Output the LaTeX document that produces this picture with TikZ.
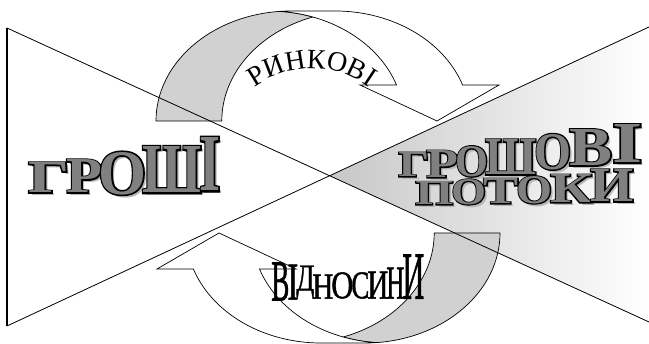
\documentclass[tikz,border=0pt]{standalone}
\usepackage{fontspec}
\setmainfont{Liberation Serif}
\newfontfamily\outlinefam{Liberation Serif}[BoldFeatures={FakeBold=5}]
\newfontfamily\vidfam{Liberation Serif}[FakeBold=1.2]
\usetikzlibrary{decorations.text}

\definecolor{bandgray}{gray}{0.82}
\definecolor{lettergray}{gray}{0.5}
\definecolor{shadowgray}{gray}{0.72}

\newcommand\bigfill{\bfseries}
\newcommand\bigline{\outlinefam\bfseries}
\newcommand\rinkfont{\fontsize{28pt}{28pt}\selectfont}

% big grey word-art letter: name, letter, x left, x right, bottom, top (pixels from the top)
\newcommand\waletter[6]{%
  \pgfmathsetlengthmacro\lw{#4-#3+4}%
  \pgfmathsetlengthmacro\lh{#5-#6}%
  \node[wa, text=shadowgray] (#1s) at ({#3+1},{341-#5}) {\resizebox{\lw}{\lh}{\bigfill #2}};
  \node[wa] (#1o) at ({#3-2},{344-#5}) {\resizebox{\lw}{\lh}{\bigline #2}};
  \node[wa, text=lettergray] (#1) at ({#3-2},{344-#5}) {\resizebox{\lw}{\lh}{\bigfill #2}};
}
% plain black letter
\newcommand\plainletter[6]{%
  \pgfmathsetlengthmacro\lw{#4-#3+2}%
  \pgfmathsetlengthmacro\lh{#5-#6}%
  \node[wa] (#1) at ({#3-1},{344-#5}) {\resizebox{\lw}{\lh}{\vidfam #2}};
}

\begin{document}
\begin{tikzpicture}[
  x=1pt, y=1pt, line width=0.7pt,
  wa/.style={inner sep=0pt, anchor=south west},
  band/.style={draw=black, fill=bandgray},
  front/.style={draw=black, fill=white},
  ell/.style={x radius=135pt, y radius=110pt},
  cross/.style={line width=0.8pt},
  bigarrow/.pic={
    \path[band] (156,223) arc[ell, start angle=180, end angle=94.7]
      arc[ell, start angle=85.3, end angle=71]
      arc[ell, start angle=109, end angle=180] -- cycle;
    \path[front] (280,332.6) arc[ell, start angle=85.3, end angle=19.1]
      -- (360,259) -- (437,223) -- (499,259) -- (462.6,259)
      arc[ell, start angle=19.1, end angle=90] -- (291,333)
      arc[ell, start angle=90, end angle=94.7] -- cycle;
  }
]
\useasboundingbox (0,0) rectangle (649,344);
\clip (0,0) rectangle (649,344);

\coordinate (tl) at (7,316);
\coordinate (bl) at (7,18);
\coordinate (tr) at (649,317);
\coordinate (br) at (649,22);
\coordinate (mid) at (intersection of tl--br and bl--tr);

% shaded right wedge
\shade[left color=black!22, right color=white] (mid) -- (tr) -- (br) -- cycle;

% the two curved arrows
\pic at (0,0) {bigarrow};
\pic[rotate=180] at (656,334) {bigarrow};

% crossing lines
\draw[cross] (tl) -- (br);
\draw[cross] (bl) -- (tr);
\draw[cross, line width=1.1pt] (tl) -- (bl);

% arched label of the upper arrow
\coordinate (rinkstart) at (228,227);
\path[decorate, decoration={text along path, text={|\rinkfont|РИНКОВІ}, text align=center}]
  (rinkstart) arc[start angle=150, end angle=30, radius=97pt];

% lower label
\foreach \l/\xa/\xb/\yb/\yt [count=\i] in {В/272/288/301/263, І/288/297/300/265, Д/297/313/299/274,
    Н/313/332/299/275, О/332/352/299/273, С/352/368/299/273, И/368/387/299/272,
    Н/387/403/299/268, И/403/423/299/255}
  {\plainletter{vid\i}{\l}{\xa}{\xb}{\yb}{\yt}}

% big words
\foreach \l/\xa/\xb/\yb/\yt [count=\i] in {Г/30/67/193/163, Р/68/100/193/160, О/100/144/195/153,
    Ш/144/199/193/147, І/201/218/191/138}
  {\waletter{gro\i}{\l}{\xa}{\xb}{\yb}{\yt}}
\foreach \l/\xa/\xb/\yb/\yt [count=\i] in {Г/400/427/177/153, Р/428/456/178/151, О/457/486/177/147,
    Ш/487/534/175/140, О/536/569/170/135, В/571/610/166/130, І/614/640/163/125}
  {\waletter{grv\i}{\l}{\xa}{\xb}{\yb}{\yt}}
\foreach \l/\xa/\xb/\yb/\yt [count=\i] in {П/417/451/205/182, О/453/484/205/180, Т/485/516/204/179,
    О/518/550/204/177, К/552/590/203/175, И/592/631/202/170}
  {\waletter{pot\i}{\l}{\xa}{\xb}{\yb}{\yt}}
\end{tikzpicture}
\end{document}
